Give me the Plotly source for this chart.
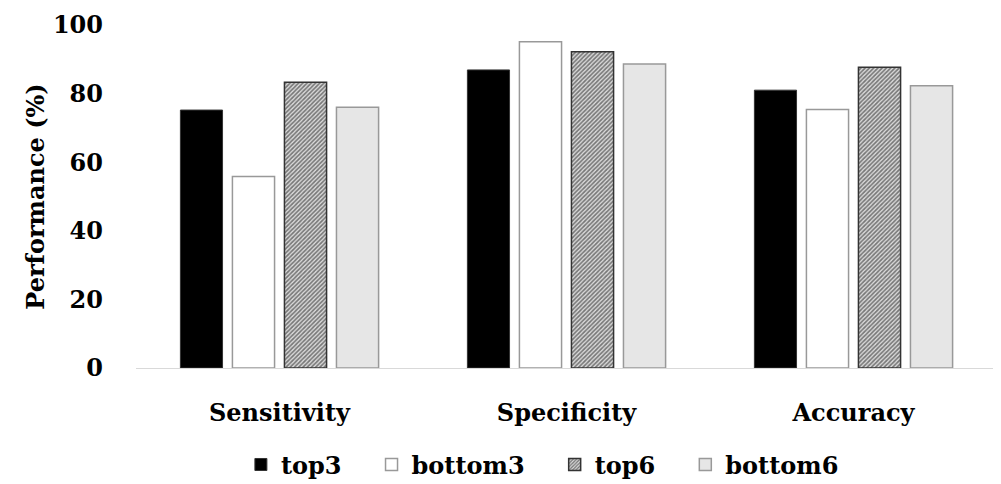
import plotly.graph_objects as go

categories = ["Sensitivity", "Specificity", "Accuracy"]
series_names = ["top3", "bottom3", "top6", "bottom6"]
top3 = [75.2, 86.9, 81.0]
bottom3 = [55.8, 95.1, 75.4]
top6 = [83.3, 92.2, 87.7]
bottom6 = [76.0, 88.6, 82.3]
y_ticks = [0, 20, 40, 60, 80, 100]

FONT = "DejaVu Serif"
BOLD = dict(family=FONT, size=24, color="black", weight="bold")
PAD = "\u00a0\u00a0\u00a0"

fig = go.Figure()
fig.add_trace(go.Bar(name=series_names[0] + PAD, x=categories, y=top3,
                     marker=dict(color="black", line=dict(color="#333333", width=1))))
fig.add_trace(go.Bar(name=series_names[1] + PAD, x=categories, y=bottom3,
                     marker=dict(color="white", line=dict(color="#999999", width=1.5))))
fig.add_trace(go.Bar(name=series_names[2] + PAD, x=categories, y=top6,
                     marker=dict(color="#555555", line=dict(color="#333333", width=1.5),
                                 pattern=dict(shape="/", fgcolor="#111111", bgcolor="#dddddd",
                                              size=3, solidity=0.55))))
fig.add_trace(go.Bar(name=series_names[3], x=categories, y=bottom6,
                     marker=dict(color="#e6e6e6", line=dict(color="#999999", width=1.5))))

fig.update_layout(
    width=1001, height=484,
    margin=dict(l=128, r=12, t=17, b=124),
    paper_bgcolor="white", plot_bgcolor="white",
    font=BOLD,
    barmode="group", bargap=0.275, bargroupgap=0.19,
    showlegend=True,
    legend=dict(orientation="h", x=0.472, xanchor="center",
                yref="container", y=0.056, yanchor="middle",
                font=BOLD, traceorder="normal", itemwidth=30,
                bgcolor="rgba(0,0,0,0)"),
    yaxis=dict(range=[0, 100], tickvals=y_ticks, showgrid=False, zeroline=False,
               showline=False, ticks="", ticklabelstandoff=32, automargin=False,
               tickfont=BOLD,
               title=dict(text="Performance (%)", standoff=1, font=BOLD)),
    xaxis=dict(showgrid=False, showline=True, linecolor="#d9d9d9", linewidth=1,
               ticks="", ticklabelstandoff=23, automargin=False,
               tickfont=BOLD),
)
fig.write_html("out.html")
